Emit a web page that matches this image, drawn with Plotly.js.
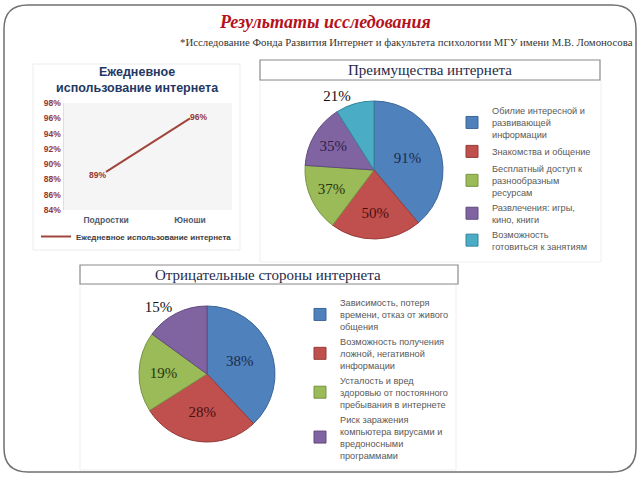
<!DOCTYPE html>
<html><head><meta charset="utf-8">
<script src="https://cdn.plot.ly/plotly-3.0.1.min.js"></script>
<style>html,body{margin:0;padding:0;background:#fff;}#chart{width:640px;height:480px;}</style>
</head><body><div id="chart"></div><script>
// ---- data ----
const lineCategories = ['Подростки', 'Юноши'];
const lineValues = [89, 96];
const lineSeriesName = 'Ежедневное использование интернета';
const lineTickValues = [84, 86, 88, 90, 92, 94, 96, 98];
const lineTickLabels = ['84%', '86%', '88%', '90%', '92%', '94%', '96%', '98%'];
const lineValueLabels = ['89%', '96%'];

const advLabels = ['Обилие интересной и<br>развивающей<br>информации', 'Знакомства и общение',
  'Бесплатный доступ к<br>разнообразным<br>ресурсам', 'Развлечения: игры,<br>кино, книги',
  'Возможность<br>готовиться к занятиям'];
const advValues = [91, 50, 37, 35, 21];

const negLabels = ['Зависимость, потеря<br>времени, отказ от живого<br>общения',
  'Возможность получения<br>ложной, негативной<br>информации',
  'Усталость и вред<br>здоровью от постоянного<br>пребывания в интернете',
  'Риск заражения<br>компьютера вирусами и<br>вредоносными<br>программами'];
const negValues = [38, 28, 19, 15];

// ---- styles ----
const sliceColors = ['#4f81bd', '#c0504d', '#9bbb59', '#8064a2', '#4bacc6'];
const sliceEdge = ['#3b6596', '#953b39', '#789343', '#5f4a7c', '#35859b'];
const sliceText = ['#1b2b4d', '#4a0f0f', '#26330f', '#2e2047', '#111111'];
const W = 640, H = 480;
const px = x => x / W, py = y => 1 - y / H;
const serif = 'Liberation Serif, DejaVu Serif, serif';
const sans = 'Liberation Sans, Arial, sans-serif';

function roundRect(x0, y0, x1, y1, r) {
  return 'M' + px(x0 + r) + ',' + py(y0) + ' L' + px(x1 - r) + ',' + py(y0) +
    ' Q' + px(x1) + ',' + py(y0) + ' ' + px(x1) + ',' + py(y0 + r) +
    ' L' + px(x1) + ',' + py(y1 - r) +
    ' Q' + px(x1) + ',' + py(y1) + ' ' + px(x1 - r) + ',' + py(y1) +
    ' L' + px(x0 + r) + ',' + py(y1) +
    ' Q' + px(x0) + ',' + py(y1) + ' ' + px(x0) + ',' + py(y1 - r) +
    ' L' + px(x0) + ',' + py(y0 + r) +
    ' Q' + px(x0) + ',' + py(y0) + ' ' + px(x0 + r) + ',' + py(y0) + ' Z';
}
function rect(x0, y0, x1, y1, color, width, fill) {
  return {type: 'rect', xref: 'paper', yref: 'paper', x0: px(x0), x1: px(x1), y0: py(y1), y1: py(y0),
    line: {color: color, width: width}, fillcolor: fill || 'rgba(0,0,0,0)', layer: 'below'};
}
function label(text, x, y, font) {
  return {text: text, xref: 'paper', yref: 'paper', x: px(x), y: py(y), xanchor: 'center',
    yanchor: 'middle', showarrow: false, font: font};
}

const traces = [
  {type: 'scatter', mode: 'lines+text', x: lineCategories, y: lineValues, name: lineSeriesName,
   line: {color: '#a0463c', width: 2},
   text: lineValueLabels, texttemplate: '%{text}', textposition: ['bottom left', 'middle right'],
   textfont: {family: sans, size: 8.5, color: '#953735', weight: 'bold'},
   cliponaxis: false, hoverinfo: 'none', legend: 'legend'},
  {type: 'pie', labels: advLabels, values: advValues, sort: false, direction: 'clockwise', rotation: 0,
   domain: {x: [px(305), px(443)], y: [py(239), py(101)]},
   marker: {colors: sliceColors, line: {color: sliceEdge, width: 1}},
   textinfo: 'value', texttemplate: '%{value}%',
   textposition: ['inside', 'inside', 'inside', 'inside', 'outside'],
   insidetextorientation: 'horizontal',
   insidetextfont: {family: serif, size: 15, color: sliceText},
   outsidetextfont: {family: serif, size: 15, color: '#111'},
   hoverinfo: 'none', legend: 'legend2'},
  {type: 'pie', labels: negLabels, values: negValues, sort: false, direction: 'clockwise', rotation: 0,
   domain: {x: [px(139), px(275)], y: [py(442), py(306)]},
   marker: {colors: sliceColors.slice(0, 4), line: {color: sliceEdge.slice(0, 4), width: 1}},
   textinfo: 'value', texttemplate: '%{value}%',
   textposition: ['inside', 'inside', 'inside', 'outside'],
   insidetextorientation: 'horizontal',
   insidetextfont: {family: serif, size: 15, color: sliceText.slice(0, 4)},
   outsidetextfont: {family: serif, size: 15, color: '#111'},
   hoverinfo: 'none', legend: 'legend3'}
];

const layout = {
  width: W, height: H, margin: {l: 0, r: 0, t: 0, b: 0},
  paper_bgcolor: '#ffffff', plot_bgcolor: '#f5f5f5', showlegend: true,
  font: {family: sans},
  xaxis: {domain: [px(64), px(232)], type: 'category', range: [-0.5, 1.5], showgrid: false,
    zeroline: false, showline: false, ticks: '', fixedrange: true, ticklabelstandoff: 3,
    tickfont: {family: sans, size: 8.5, color: '#4f5b6e', weight: 'bold'}},
  yaxis: {domain: [py(210), py(103)], range: [84, 98], tickvals: lineTickValues, ticktext: lineTickLabels,
    showgrid: false, zeroline: false, showline: true, linecolor: '#f3e97a', linewidth: 1.5,
    ticks: '', fixedrange: true,
    tickfont: {family: sans, size: 8.5, color: '#953735', weight: 'bold'}},
  legend: {x: px(36), y: py(222), xanchor: 'left', yanchor: 'top', orientation: 'h',
    bgcolor: 'rgba(0,0,0,0)', font: {family: sans, size: 8, color: '#404040', weight: 'bold'}},
  legend2: {x: px(452), y: py(98), xanchor: 'left', yanchor: 'top', bgcolor: 'rgba(0,0,0,0)',
    tracegroupgap: 0, font: {family: sans, size: 9.2, color: '#595959'}},
  legend3: {x: px(300), y: py(290), xanchor: 'left', yanchor: 'top', bgcolor: 'rgba(0,0,0,0)',
    tracegroupgap: 0, font: {family: sans, size: 9.2, color: '#595959'}},
  shapes: [
    {type: 'path', xref: 'paper', yref: 'paper', path: roundRect(4, 5, 636, 472, 24),
     line: {color: '#707070', width: 1.5}, layer: 'below'},
    rect(33, 64, 240, 250, '#ececec', 1),
    rect(260, 80, 601, 262, '#efefef', 1),
    rect(80, 284, 456, 470, '#efefef', 1),
    rect(260, 60, 600, 80, '#8a8a8a', 1.2, '#ffffff'),
    rect(80, 265, 458, 284, '#8a8a8a', 1.2, '#ffffff')
  ],
  annotations: [
    label('Результаты исследования', 325, 22,
      {family: serif, size: 18, color: '#b5121b', weight: 'bold', style: 'italic'}),
    {text: '*Исследование Фонда Развития Интернет и факультета психологии МГУ имени М.В. Ломоносова',
     xref: 'paper', yref: 'paper', x: px(635), y: py(42), xanchor: 'right', yanchor: 'middle',
     showarrow: false, font: {family: serif, size: 10.8, color: '#333333'}},
    label('Ежедневное<br>использование интернета', 137, 80,
      {family: sans, size: 12.5, color: '#1f3864', weight: 'bold'}),
    label('Преимущества интернета', 430, 70, {family: serif, size: 15, color: '#1f2a48'}),
    label('Отрицательные стороны интернета', 268, 274.5, {family: serif, size: 15, color: '#1f2a48'})
  ]
};

Plotly.newPlot('chart', traces, layout, {staticPlot: true, displayModeBar: false});
</script></body></html>
